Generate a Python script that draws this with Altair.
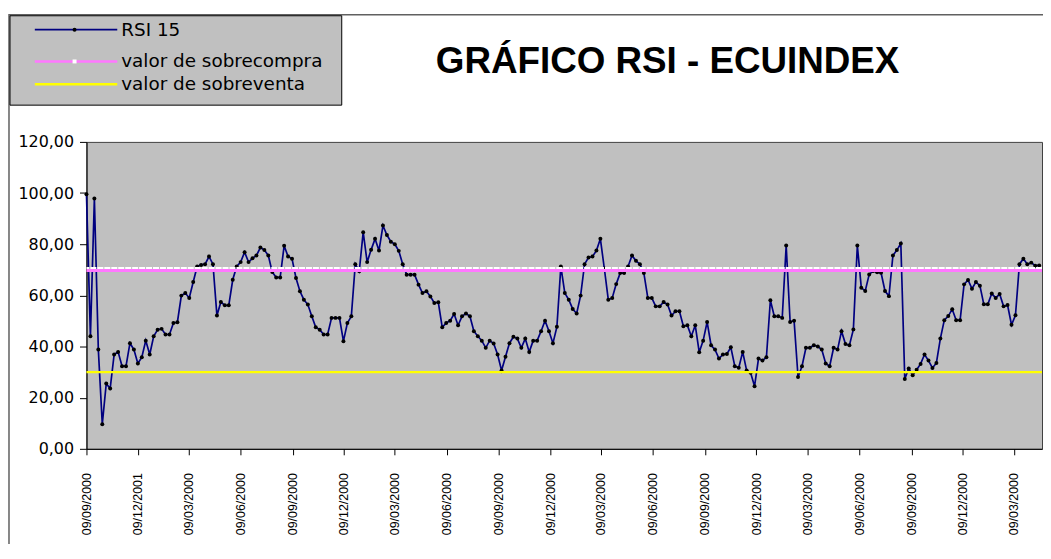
import json
import datetime as dt
import altair as alt
import pandas as pd

# ---------------- data ----------------
rsi_15 = [
    99.5, 44.0, 97.9, 38.8, 9.6, 25.5, 23.6, 36.9, 37.9, 32.3,
    32.3, 41.3, 38.8, 33.4, 35.8, 42.3, 36.9, 44.0, 46.6, 46.9,
    44.7, 44.7, 49.2, 49.5, 59.9, 60.9, 59.0, 65.2, 71.3, 71.9,
    72.2, 75.2, 72.2, 52.1, 57.4, 56.1, 56.1, 66.1, 71.3, 73.0,
    76.9, 73.0, 74.5, 75.6, 78.7, 77.7, 75.6, 69.1, 67.0, 67.0,
    79.4, 75.2, 74.3, 66.8, 61.6, 58.3, 56.4, 51.8, 47.5, 46.6,
    44.7, 44.7, 51.2, 51.2, 51.2, 42.1, 49.2, 51.8, 72.2, 69.4,
    84.7, 73.0, 77.8, 82.1, 77.5, 87.3, 83.6, 81.0, 80.0, 77.4,
    72.2, 68.1, 68.1, 68.1, 64.2, 60.9, 61.6, 59.6, 57.0, 57.3,
    47.5, 49.2, 50.1, 52.7, 48.3, 51.8, 52.9, 51.8, 46.0, 44.0,
    42.3, 39.5, 42.3, 41.2, 36.9, 30.6, 36.0, 41.3, 43.8, 43.1,
    39.5, 43.1, 37.9, 42.3, 42.3, 46.0, 50.1, 46.0, 41.3, 47.7,
    71.3, 60.9, 58.3, 54.7, 52.9, 59.9, 72.2, 74.8, 75.2, 77.5,
    82.1, 70.5, 58.3, 59.0, 64.4, 68.7, 68.7, 71.3, 75.6, 73.5,
    72.2, 68.7, 59.0, 59.0, 55.7, 55.7, 57.4, 56.4, 52.1, 53.8,
    53.8, 47.9, 48.3, 44.0, 48.3, 37.8, 42.3, 49.6, 40.5, 38.8,
    35.3, 36.9, 37.1, 39.7, 32.3, 31.7, 37.9, 30.6, 29.7, 24.5,
    35.3, 34.5, 35.8, 58.1, 51.8, 51.8, 51.2, 79.5, 49.6, 50.1,
    28.1, 32.3, 39.5, 39.5, 40.5, 40.0, 38.8, 33.4, 32.3, 39.5,
    38.8, 46.0, 41.0, 40.5, 46.7, 79.5, 63.0, 61.7, 68.2, 69.5,
    69.0, 68.8, 61.7, 59.7, 75.6, 77.7, 80.3, 27.3, 31.4, 28.8,
    30.9, 33.2, 36.9, 34.5, 31.6, 33.6, 43.1, 50.3, 51.9, 54.6,
    50.3, 50.3, 64.3, 66.0, 62.6, 65.2, 63.8, 56.5, 56.5, 60.7,
    59.0, 60.5, 55.7, 56.2, 48.5, 52.2, 72.2, 74.3, 72.2, 72.8,
    71.6, 71.7,
]
valor_sobrecompra = [70]
valor_sobreventa = [30]

etiquetas_x = [
    "09/09/2000", "09/12/2001", "09/03/2000", "09/06/2000", "09/09/2000",
    "09/12/2000", "09/03/2000", "09/06/2000", "09/09/2000", "09/12/2000",
    "09/03/2000", "09/06/2000", "09/09/2000", "09/12/2000", "09/03/2000",
    "09/06/2000", "09/09/2000", "09/12/2000", "09/03/2000",
]
y_ticks = [0, 20, 40, 60, 80, 100, 120]

titulo = "GRÁFICO RSI -  ECUINDEX"
nombres_series = ["RSI 15", "valor de sobrecompra", "valor de sobreventa"]

# ---------------- derived tables ----------------
inicio = dt.date(2000, 9, 9)
fechas_ticks = []
anio, mes = 2000, 9
for _ in range(len(etiquetas_x)):
    fechas_ticks.append(dt.date(anio, mes, 9))
    mes += 3
    if mes > 12:
        mes -= 12
        anio += 1
tick_dias = [(f - inicio).days for f in fechas_ticks]

df = pd.DataFrame({"dia": [7 * i for i in range(len(rsi_15))], "valor": rsi_15})
df_compra = pd.DataFrame({"valor": valor_sobrecompra})
df_venta = pd.DataFrame({"valor": valor_sobreventa})
uno = pd.DataFrame({"k": [0]})

label_expr_x = f"{json.dumps(etiquetas_x)}[indexof({json.dumps(tick_dias)}, datum.value)]"

x_enc = alt.X(
    "dia:Q",
    scale=alt.Scale(domain=[0, 1692], nice=False, zero=False),
    axis=alt.Axis(
        values=tick_dias,
        labelExpr=label_expr_x,
        labelAngle=270,
        labelFlush=False,
        labelOverlap=False,
        labelBound=False,
        labelFont="Liberation Sans",
        labelFontSize=12.5,
        labelPadding=18,
        tickSize=6,
        grid=False,
        title=None,
    ),
)
y_enc = alt.Y(
    "valor:Q",
    scale=alt.Scale(domain=[0, 120], nice=False),
    axis=alt.Axis(
        values=y_ticks,
        labelExpr="replace(format(datum.value, '.2f'), '.', ',')",
        labelFont="DejaVu Sans",
        labelFontSize=16,
        labelPadding=6,
        tickSize=7,
        grid=False,
        title=None,
    ),
)

# outer chart-area frame
marco = alt.Chart(uno).mark_rect(fill="white", fillOpacity=0, stroke="#606060", strokeWidth=1.5).encode(
    x=alt.value(-78), x2=alt.value(1100), y=alt.value(-128), y2=alt.value(700)
)

linea = alt.Chart(df).mark_line(color="#000080", strokeWidth=1.7).encode(x=x_enc, y=y_enc)
puntos = alt.Chart(df).mark_point(filled=True, color="black", opacity=1, size=16, shape="circle").encode(
    x=x_enc, y=y_enc
)

compra_rosa = alt.Chart(df_compra).mark_rule(color="#ff77ff", strokeWidth=3, yOffset=0.8).encode(y=y_enc)
compra_blanca = alt.Chart(df_compra).mark_rule(
    color="white", strokeWidth=2, strokeDash=[6, 1], yOffset=-1.8
).encode(y=y_enc)
venta = alt.Chart(df_venta).mark_rule(color="#ffff00", strokeWidth=2.2).encode(y=y_enc)

# legend (box + entries)
caja = alt.Chart(uno).mark_rect(fill="#c0c0c0", stroke="black", strokeWidth=1).encode(
    x=alt.value(-77), x2=alt.value(257), y=alt.value(-127), y2=alt.value(-37)
)
filas_y = [-113, -81, -58]
colores = ["#000080", "#ff77ff", "#ffff00"]
capas_leyenda = [caja]
for nombre, yy, col in zip(nombres_series, filas_y, colores):
    capas_leyenda.append(
        alt.Chart(uno).mark_rule(color=col, strokeWidth=2.5 if col != "#000080" else 1.8).encode(
            x=alt.value(-52), x2=alt.value(31), y=alt.value(yy)
        )
    )
    capas_leyenda.append(
        alt.Chart(uno).mark_text(
            text=nombre, align="left", baseline="middle", fontSize=18.5,
            font="DejaVu Sans", color="black"
        ).encode(x=alt.value(35), y=alt.value(yy))
    )
capas_leyenda.append(
    alt.Chart(uno).mark_point(filled=True, color="black", opacity=1, size=16, shape="circle").encode(
        x=alt.value(-12), y=alt.value(filas_y[0])
    )
)
capas_leyenda.append(
    alt.Chart(uno).mark_point(filled=True, color="white", opacity=1, size=16, shape="square").encode(
        x=alt.value(-12), y=alt.value(filas_y[1])
    )
)

texto_titulo = alt.Chart(uno).mark_text(
    text=titulo, align="center", baseline="middle", fontSize=37, fontWeight="bold",
    font="Liberation Sans", color="black"
).encode(x=alt.value(585), y=alt.value(-80))

chart = alt.layer(
    marco, linea, puntos, compra_rosa, compra_blanca, venta, *capas_leyenda, texto_titulo
).properties(
    width=962,
    height=309,
    padding={"left": 79, "top": 133, "right": 1, "bottom": 94},
    autosize=alt.AutoSizeParams(type="none"),
    background="white",
).configure_view(
    fill="#c0c0c0", stroke="#404040", strokeWidth=1
).configure_axis(
    domainColor="black", tickColor="black", labelColor="black", domainWidth=1
)

chart.save("out.html", embed_options={"renderer": "svg", "actions": False})
